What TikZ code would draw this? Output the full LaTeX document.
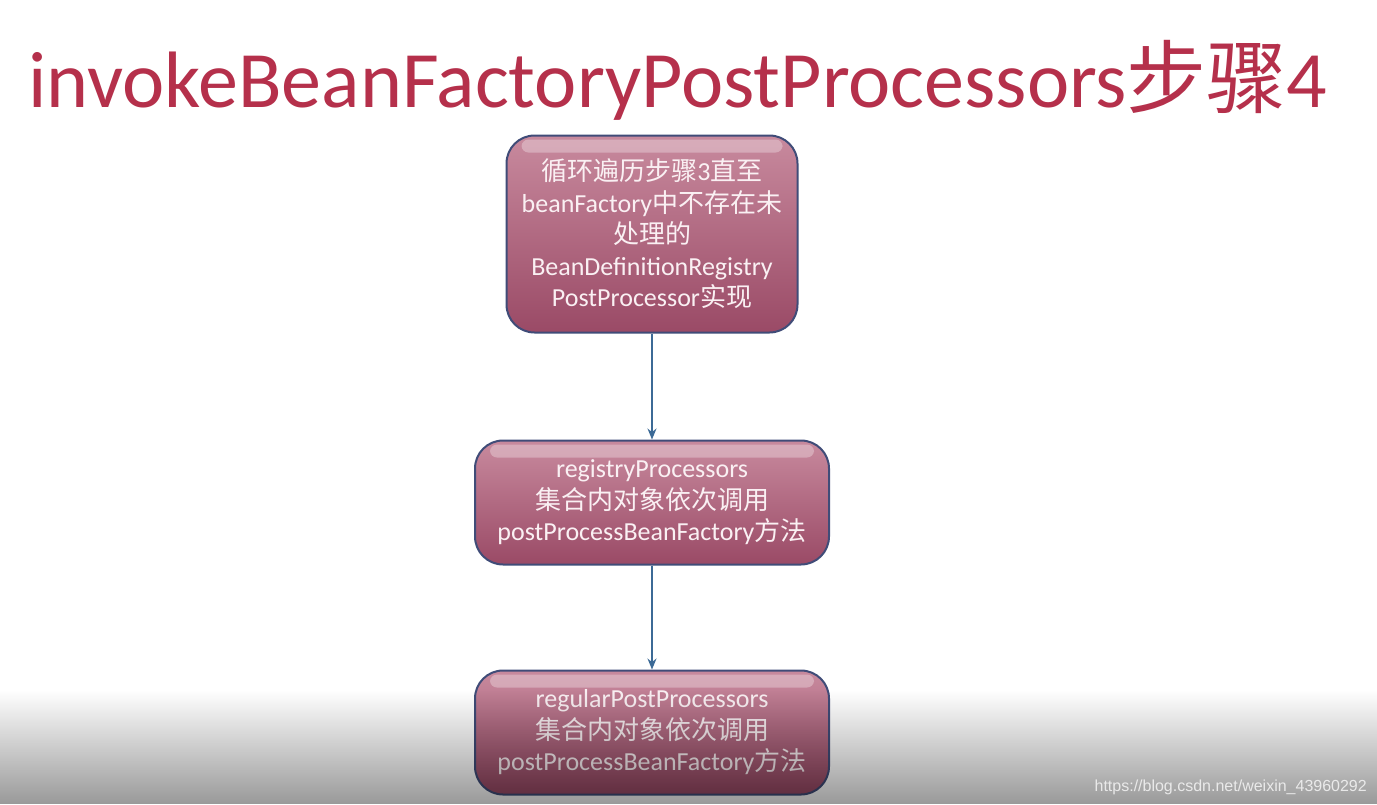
\documentclass[tikz,border=0pt]{standalone}
\usepackage{fontspec}
\setmainfont{Carlito}
\newfontfamily\cjk{Noto Sans CJK SC}
\newfontfamily\urlfont{Liberation Sans}
\usetikzlibrary{arrows.meta,positioning,fadings}
\definecolor{titlered}{HTML}{B5304B}
\definecolor{boxtop}{HTML}{C88A9E}
\definecolor{boxbot}{HTML}{9A4A66}
\definecolor{boxline}{HTML}{404C78}
\definecolor{arrowblue}{HTML}{3C6A96}
\definecolor{boxtext}{HTML}{FAF0F3}
\tikzset{
  stepbox/.style={rounded corners=28pt, draw=boxline, line width=2pt,
    top color=boxtop, bottom color=boxbot, text=boxtext, align=center,
    font=\fontsize{26}{31.5}\selectfont, inner sep=0pt},
  flow/.style={draw=arrowblue, line width=1.5pt, -{Stealth[length=11pt,width=9pt]}}
}
\begin{document}
\begin{tikzpicture}[x=1pt,y=-1pt]
\useasboundingbox (0,0) rectangle (1377,804);
\fill[white] (0,0) rectangle (1377,804);
% title
\node[anchor=base west, inner sep=0, text=titlered, font=\fontsize{80}{80}\selectfont] (title) at (28,107)
  {invokeBeanFactoryPostProcessors{\cjk 步骤}4};
% steps
\node[stepbox, minimum width=291pt, minimum height=197pt] (loop) at (652,234)
  {{\cjk 循环遍历步骤}3{\cjk 直至}\\beanFactory{\cjk 中不存在未}\\{\cjk 处理的}\\BeanDefinitionRegistry\\PostProcessor{\cjk 实现}};
\node[stepbox, minimum width=354pt, minimum height=124pt, below=106pt of loop] (registry)
  {registryProcessors\\{\cjk 集合内对象依次调用}\\postProcessBeanFactory{\cjk 方法}};
\node[stepbox, minimum width=354pt, minimum height=124pt, below=104pt of registry] (regular)
  {regularPostProcessors\\{\cjk 集合内对象依次调用}\\postProcessBeanFactory{\cjk 方法}};
% gloss on top of each box
\foreach \b in {loop,registry,regular}
  \fill[white, opacity=0.3, rounded corners=7pt] ([xshift=16pt,yshift=-5pt]\b.north west) rectangle ([xshift=-16pt,yshift=-18pt]\b.north east);
\draw[flow] (loop) -- (registry);
\draw[flow] (registry) -- (regular);
% video shadow at the bottom
\fill[black, fill opacity=0.4, path fading=north] (0,690) rectangle (1377,804);
\node[anchor=base east, inner sep=0, text=white, opacity=0.75, font=\urlfont\fontsize{16}{16}\selectfont] (mark) at (1367,791)
  {https://blog.csdn.net/weixin\_43960292};
\end{tikzpicture}
\end{document}
